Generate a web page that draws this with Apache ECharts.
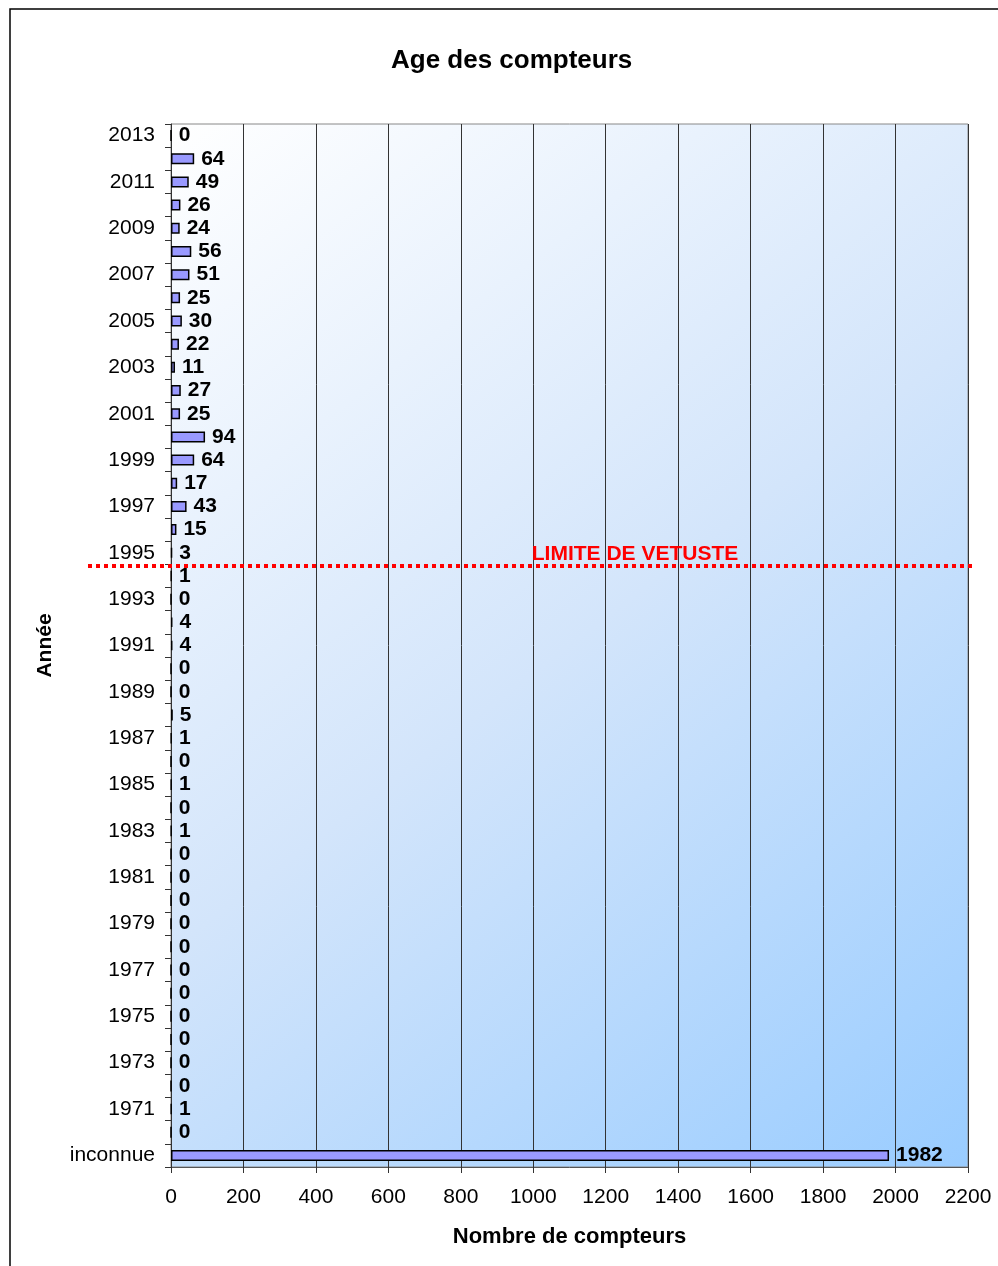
<!DOCTYPE html>
<html>
<head>
<meta charset="utf-8">
<script src="https://cdn.jsdelivr.net/npm/echarts@6/dist/echarts.min.js"></script>
<style>
  html, body { margin: 0; padding: 0; background: #fff; }
  #chart { width: 998px; height: 1266px; }
</style>
</head>
<body>
<div id="chart"></div>
<script>
  // annees, de 2013 a 1970, puis les compteurs sans date
  const annees = ['2013', '2012', '2011', '2010', '2009', '2008', '2007', '2006', '2005', '2004',
    '2003', '2002', '2001', '2000', '1999', '1998', '1997', '1996', '1995', '1994',
    '1993', '1992', '1991', '1990', '1989', '1988', '1987', '1986', '1985', '1984',
    '1983', '1982', '1981', '1980', '1979', '1978', '1977', '1976', '1975', '1974',
    '1973', '1972', '1971', '1970', 'inconnue']
  const nbCompteurs = [0, 64, 49, 26, 24, 56, 51, 25, 30, 22,
    11, 27, 25, 94, 64, 17, 43, 15, 3, 1,
    0, 4, 4, 0, 0, 5, 1, 0, 1, 0,
    1, 0, 0, 0, 0, 0, 0, 0, 0, 0,
    0, 0, 1, 0, 1982]
  const xTicks = [0, 2200, 200] // min, max, pas
  const limite = ['1995', '1994'] // la limite passe entre ces deux annees

  const font = 'Arial, "Liberation Sans", sans-serif'
  const chart = echarts.init(document.getElementById('chart'))

  let option = {
    animation: false,
    title: {
      text: 'Age des compteurs',
      left: 386,
      top: 43,
      textStyle: { fontFamily: font, fontSize: 26, fontWeight: 'bold', color: '#000' }
    },
    grid: {
      left: 171,
      right: 30,
      top: 124,
      bottom: 99,
      show: true,
      borderColor: '#888',
      borderWidth: 1,
      backgroundColor: new echarts.graphic.LinearGradient(0, 0, 1, 1, [
        { offset: 0, color: '#ffffff' },
        { offset: 0.5, color: '#d3e5fb' },
        { offset: 1, color: '#99ccff' }
      ])
    },
    xAxis: {
      type: 'value',
      min: xTicks[0],
      max: xTicks[1],
      interval: xTicks[2],
      name: 'Nombre de compteurs',
      nameLocation: 'middle',
      nameGap: 59,
      nameTextStyle: { fontFamily: font, fontSize: 22, fontWeight: 'bold', color: '#000' },
      axisLine: { show: true, lineStyle: { color: '#555' } },
      axisTick: { show: true, length: 6, lineStyle: { color: '#333' } },
      axisLabel: {
        fontFamily: font, fontSize: 21, color: '#000', margin: 20,
        formatter: v => String(v)
      },
      splitLine: { show: true, lineStyle: { color: '#333', width: 1 } }
    },
    yAxis: {
      type: 'category',
      inverse: true,
      data: annees,
      name: 'Année',
      nameLocation: 'middle',
      nameRotate: 90,
      nameGap: 115,
      nameTextStyle: { fontFamily: font, fontSize: 21, fontWeight: 'bold', color: '#000' },
      axisLine: { show: true, lineStyle: { color: '#333' } },
      axisTick: { show: true, interval: 0, length: 6, lineStyle: { color: '#333' } },
      axisLabel: { interval: 1, fontFamily: font, fontSize: 21, color: '#000', margin: 16 },
      splitLine: { show: false }
    },
    series: [{
      type: 'bar',
      data: nbCompteurs,
      barWidth: 11,
      itemStyle: { color: '#9999ff', borderColor: '#000', borderWidth: 1.5 },
      label: {
        show: true,
        position: 'right',
        distance: 7,
        fontFamily: font,
        fontSize: 21,
        fontWeight: 'bold',
        color: '#000'
      }
    }]
  }
  chart.setOption(option)

  // ligne pointillee de la limite de vetuste
  const y1 = chart.convertToPixel({ yAxisIndex: 0 }, limite[0])
  const y2 = chart.convertToPixel({ yAxisIndex: 0 }, limite[1])
  const yLim = Math.round((y1 + y2) / 2) + 2
  chart.setOption({
    graphic: [
      {
        type: 'rect',
        shape: { x: 10, y: 9, width: 1000, height: 1300 },
        style: { fill: 'none', stroke: '#000', lineWidth: 1.5 },
        z: 100
      },
      {
        type: 'line',
        shape: { x1: 88, y1: yLim, x2: 975, y2: yLim },
        style: { stroke: '#ff0000', lineWidth: 4, lineDash: [4, 4] },
        z: 100
      },
      {
        type: 'text',
        x: 635,
        y: yLim - 1,
        style: {
          text: 'LIMITE DE VETUSTE',
          fill: '#ff0000',
          font: 'bold 21px ' + font,
          align: 'center',
          verticalAlign: 'bottom'
        },
        z: 100
      }
    ]
  })
</script>
</body>
</html>
